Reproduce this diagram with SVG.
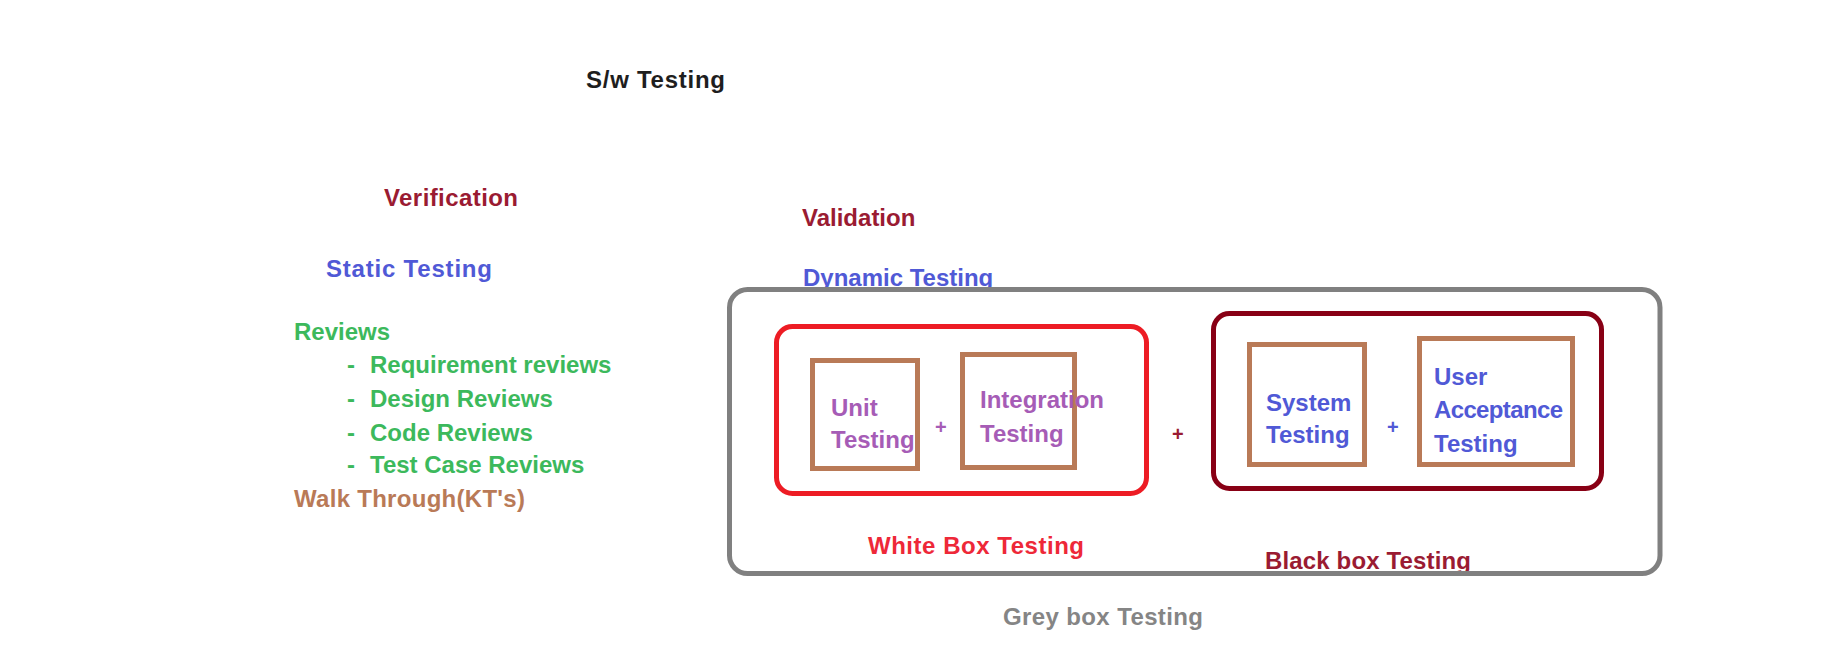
<svg xmlns="http://www.w3.org/2000/svg" width="1828" height="648" viewBox="0 0 1828 648">
<style>
text{font-family:"Liberation Sans",Arial,sans-serif;font-weight:bold;font-size:24px}
.blk{fill:#1e1e1e}
.dred{fill:#9a1b32}
.blue{fill:#5059d6}
.grn{fill:#3cb95c}
.brn{fill:#b97a57}
.pur{fill:#a65cb6}
.red{fill:#ee2838}
.gry{fill:#858585}
.plus{font-size:20px}
.box{fill:none;stroke:#b97a57;stroke-width:5}
</style>
<rect width="1828" height="648" fill="#ffffff"/>
<g id="title"><text class="blk" x="586" y="88" textLength="139">S/w Testing</text></g>
<g id="verification">
<text class="dred" x="384" y="206" textLength="134">Verification</text>
<text class="blue" x="326" y="277" textLength="166">Static Testing</text>
<text class="grn" x="294" y="340">Reviews</text>
<text class="grn" x="347" y="373">- <tspan x="370">Requirement reviews</tspan></text>
<text class="grn" x="347" y="407">- <tspan x="370">Design Reviews</tspan></text>
<text class="grn" x="347" y="441">- <tspan x="370">Code Reviews</tspan></text>
<text class="grn" x="347" y="473">- <tspan x="370">Test Case Reviews</tspan></text>
<text class="brn" x="294" y="507" textLength="231">Walk Through(KT's)</text>
</g>
<g id="validation">
<text class="dred" x="802" y="226">Validation</text>
<text class="blue" x="803" y="286">Dynamic Testing</text>
</g>
<g id="grey-box">
<rect x="729.5" y="289.5" width="930.5" height="284" rx="18" fill="#ffffff"/>
<g id="white-box">
<rect x="776.5" y="326.5" width="370" height="167" rx="16" fill="none" stroke="#ed1c24" stroke-width="5"/>
<g id="unit">
<rect class="box" x="812.5" y="360.5" width="105" height="108"/>
<text class="pur" x="831" y="416">Unit</text>
<text class="pur" x="831" y="448">Testing</text>
</g>
<text class="pur plus" x="935" y="434">+</text>
<g id="integration">
<rect class="box" x="962.5" y="354.5" width="112" height="113"/>
<text class="pur" x="980" y="408">Integration</text>
<text class="pur" x="980" y="442">Testing</text>
</g>
<text class="red" x="868" y="554" textLength="216">White Box Testing</text>
</g>
<text class="dred plus" x="1172" y="441">+</text>
<g id="black-box">
<rect x="1213.5" y="313.5" width="388" height="175" rx="16" fill="none" stroke="#880015" stroke-width="5"/>
<g id="system">
<rect class="box" x="1249.5" y="344.5" width="115" height="120"/>
<text class="blue" x="1266" y="411">System</text>
<text class="blue" x="1266" y="443">Testing</text>
</g>
<text class="blue plus" x="1387" y="434">+</text>
<g id="uat">
<rect class="box" x="1419.5" y="338.5" width="153" height="126"/>
<text class="blue" x="1434" y="385">User</text>
<text class="blue" x="1434" y="418" textLength="129">Acceptance</text>
<text class="blue" x="1434" y="452">Testing</text>
</g>
<text class="dred" x="1265" y="569" textLength="206">Black box Testing</text>
</g>
<rect x="729.5" y="289.5" width="930.5" height="284" rx="18" fill="none" stroke="#808080" stroke-width="5"/>
<text class="gry" x="1003" y="625" textLength="200">Grey box Testing</text>
</g>
</svg>
